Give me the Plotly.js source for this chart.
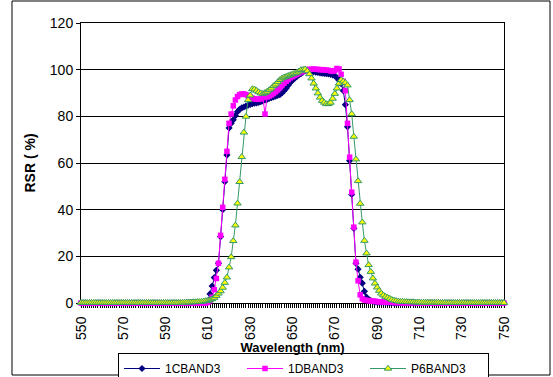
<!DOCTYPE html>
<html>
<head>
<meta charset="utf-8">
<script src="https://cdn.plot.ly/plotly-3.0.1.min.js"></script>
<style>html,body{margin:0;padding:0;background:#fff;}#chart{width:553px;height:377px;}</style>
</head>
<body>
<div id="chart"></div>
<script>
// Wavelength axis: first wavelength and step (nm)
var startWavelength = 550;
var stepWavelength = 1;
var seriesNames = ['1CBAND3', '1DBAND3', 'P6BAND3'];
var xTickLabels = [550, 570, 590, 610, 630, 650, 670, 690, 710, 730, 750];
var yTickLabels = [0, 20, 40, 60, 80, 100, 120];

// 1CBAND3 RSR (%) from 550 to 750 nm, 1 nm step
var band1C = [
  0,0,0,0,0,0,0,0,0,0,
  0,0,0,0,0,0,0,0,0,0,
  0,0,0,0,0,0,0,0,0,0,
  0,0,0,0,0,0,0,0,0,0,
  0,0,0,0,0,0,0,0,0,0,
  0,0,0,0,0,0,0,0,0,0.2,
  0.8,3.9,7.3,10.9,14,17,28.4,40,52,63.4,
  75,77,78.5,80.3,82,83,83.6,84,84.4,84.8,
  85.1,85.4,85.6,85.8,86,86.3,86.6,87,87.3,87.7,
  88,88.3,88.6,89,89.3,90,91,92,93.3,94.5,
  95.5,96.3,97,97.7,98.3,99,99.5,99.8,99.6,99.3,
  99.1,98.9,98.8,98.6,98.5,98.4,98.3,98.2,98,97.8,
  97.4,96.5,95.5,94,91,85,75.5,61,46.5,32,
  17,14.5,11,8.5,5,2.5,1.5,1,0.7,0.5,
  0.4,0.3,0.3,0.2,0.2,0.1,0.1,0.1,0,0,
  0,0,0,0,0,0,0,0,0,0,
  0,0,0,0,0,0,0,0,0,0,
  0,0,0,0,0,0,0,0,0,0,
  0,0,0,0,0,0,0,0,0,0,
  0,0,0,0,0,0,0,0,0,0,
  0
];

// 1DBAND3 RSR (%)
var band1D = [
  0,0,0,0,0,0,0,0,0,0,
  0,0,0,0,0,0,0,0,0,0,
  0,0,0,0,0,0,0,0,0,0,
  0,0,0,0,0,0,0,0,0,0,
  0,0,0,0,0,0,0,0,0,0,
  0,0,0,0,0,0,0,0,0,0,
  0.3,1,2.5,5.7,10.5,17,29,41,53,65,
  77,81,84.5,87,88.5,89.3,89.6,89.6,89.3,88.8,
  88.3,87.8,87.5,87.3,87.3,87.5,88,81,88.3,88.7,
  89.2,89.8,90.5,91.3,92.2,93.2,94.2,95,95.8,96.5,
  97,97.5,98,98.5,99,99.4,99.7,100,100.1,100.2,
  100.2,100.2,100.1,100,100,99.9,99.8,99.7,99.5,99.3,
  99.6,100.5,100.3,98,95,91,77,62.5,47.5,32.5,
  17.5,9.5,3.5,1.8,1.3,1.1,1,0.9,0.8,0.7,
  0.6,0.5,0.5,0.4,0.4,0.3,0.3,0.3,0.2,0.2,
  0.2,0.2,0.1,0.1,0.1,0.1,0.1,0.1,0.1,0.1,
  0,0,0,0,0,0,0,0,0,0,
  0,0,0,0,0,0,0,0,0,0,
  0,0,0,0,0,0,0,0,0,0,
  0,0,0,0,0,0,0,0,0,0,
  0
];

// P6BAND3 RSR (%)
var bandP6 = [
  0.1,0.1,0.1,0.1,0.1,0.1,0.1,0.1,0.1,0.1,
  0.1,0.1,0.1,0.1,0.1,0.1,0.1,0.1,0.1,0.1,
  0.1,0.1,0.1,0.1,0.1,0.1,0.1,0.1,0.1,0.1,
  0.1,0.1,0.1,0.1,0.1,0.1,0.1,0.1,0.1,0.1,
  0.1,0.1,0.1,0.1,0.1,0.1,0.1,0.1,0.2,0.2,
  0.3,0.3,0.3,0.4,0.4,0.5,0.5,0.6,0.7,0.9,
  1,1.3,1.7,2.3,3.1,4.1,5.1,6.6,8.7,11,
  15.3,19.7,26.6,33.3,42.7,51.9,62.6,73.1,79.9,87,
  89,91.7,91.6,91,90.4,89.9,89.7,90.1,90.6,91.3,
  92,93,93.7,94.7,95.6,96.3,96.7,97,97.4,97.7,
  98.1,98.4,98.7,99.3,99.9,100,100.2,99.4,98.1,96.3,
  94.1,92,89.9,88.1,86.7,85.9,85.3,85.3,85.9,87.6,
  89.7,92,94.1,95.6,95,94.4,93.3,87,81,71.3,
  61.6,52.3,42.6,34.6,26.7,21.3,16.3,13.4,10.6,8.4,
  6.7,5.3,4.1,3.3,2.7,2.3,1.9,1.4,1.1,0.9,
  0.7,0.6,0.6,0.5,0.5,0.4,0.4,0.4,0.3,0.3,
  0.3,0.2,0.2,0.2,0.2,0.2,0.2,0.2,0.2,0.2,
  0.1,0.1,0.1,0.1,0.1,0.1,0.1,0.1,0.1,0.1,
  0.1,0.1,0.1,0.1,0.1,0.1,0.1,0.1,0.1,0.1,
  0.1,0.1,0.1,0.1,0.1,0.1,0.1,0.1,0.1,0.1,
  0.1
];

var traces = [
  {
    type: 'scatter', mode: 'lines+markers', name: seriesNames[0],
    x0: startWavelength, dx: stepWavelength, y: band1C,
    line: {color: '#000080', width: 1},
    marker: {symbol: 'diamond', size: 5.5, color: '#000080'},
    cliponaxis: false
  },
  {
    type: 'scatter', mode: 'lines+markers', name: seriesNames[1],
    x0: startWavelength, dx: stepWavelength, y: band1D,
    line: {color: '#FF00FF', width: 1},
    marker: {symbol: 'square', size: 5.5, color: '#FF00FF'},
    cliponaxis: false
  },
  {
    type: 'scatter', mode: 'lines+markers', name: seriesNames[2],
    x0: startWavelength, dx: stepWavelength, y: bandP6,
    line: {color: '#339966', width: 1},
    marker: {symbol: 'triangle-up', size: 6.5, color: '#FFFF00', line: {color: '#339966', width: 1}},
    cliponaxis: false
  }
];

var L = 81, R = 504, T = 23, B = 303;
var W = 553, H = 377;
function px(x) { return (x - L) / (R - L); }
function py(y) { return (B - y) / (B - T); }

var layout = {
  width: W, height: H,
  margin: {l: L, r: W - R, t: T, b: H - B, pad: 0, autoexpand: false},
  paper_bgcolor: '#ffffff',
  plot_bgcolor: '#ffffff',
  font: {family: 'Liberation Sans, Arial, sans-serif', size: 14, color: '#000000'},
  showlegend: true,
  legend: {
    orientation: 'h',
    x: px(303.5), y: py(353), xanchor: 'center', yanchor: 'top',
    bordercolor: '#000000', borderwidth: 1, bgcolor: '#ffffff',
    font: {size: 12},
    entrywidth: 72, entrywidthmode: 'pixels',
    itemwidth: 36
  },
  xaxis: {
    range: [xTickLabels[0], xTickLabels[xTickLabels.length - 1]],
    tickmode: 'array', tickvals: xTickLabels, ticktext: xTickLabels.map(String),
    tickangle: -90,
    ticks: '', ticklabelstandoff: 7,
    tickfont: {size: 14},
    minor: {dtick: 1, ticks: 'outside', ticklen: 4, tickcolor: '#000000', tickwidth: 1, showgrid: false},
    showline: true, linecolor: '#000000', linewidth: 1, mirror: true,
    showgrid: false, zeroline: false,
    layer: 'below traces', automargin: false,
    title: {text: 'Wavelength (nm)', font: {size: 13, weight: 'bold'}, standoff: 2},
    fixedrange: true
  },
  yaxis: {
    range: [yTickLabels[0], yTickLabels[yTickLabels.length - 1]],
    tickmode: 'array', tickvals: yTickLabels,
    ticks: 'outside', ticklen: 4, tickcolor: '#000000',
    tickfont: {size: 14},
    showline: true, linecolor: '#000000', linewidth: 1, mirror: true,
    showgrid: true, gridcolor: '#000000', gridwidth: 1,
    zeroline: false,
    layer: 'below traces', automargin: false,
    title: {text: 'RSR ( %)', font: {size: 14, weight: 'bold'}, standoff: 10},
    fixedrange: true
  },
  shapes: [{
    type: 'rect', xref: 'paper', yref: 'paper',
    x0: px(12), x1: px(550), y0: py(375), y1: py(1),
    line: {color: '#000000', width: 1}, fillcolor: 'rgba(0,0,0,0)', layer: 'below'
  }]
};

Plotly.newPlot('chart', traces, layout, {displayModeBar: false, staticPlot: true});
</script>
</body>
</html>
